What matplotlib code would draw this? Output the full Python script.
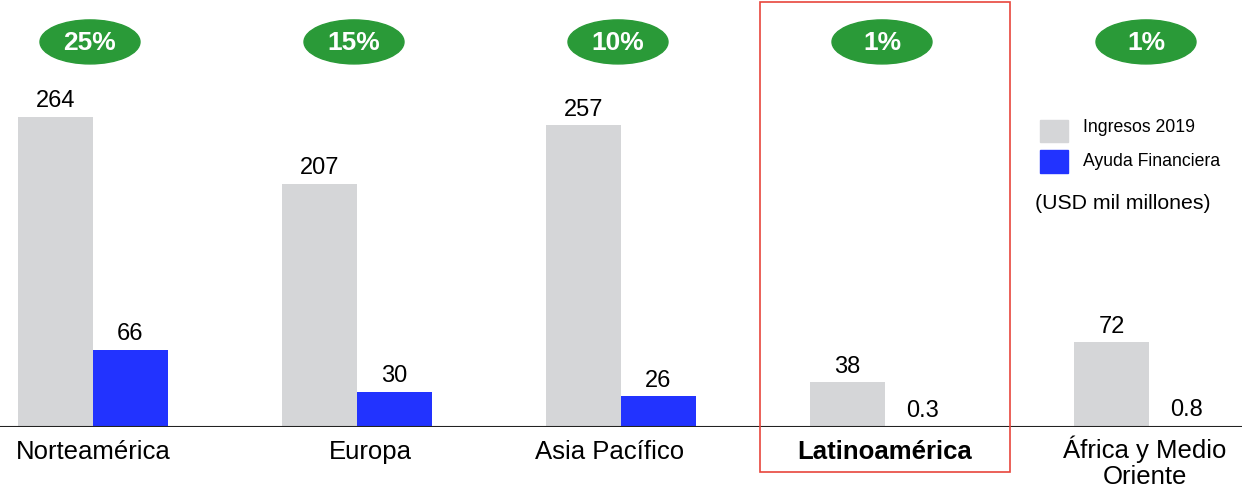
import matplotlib.pyplot as plt
from matplotlib.patches import Ellipse, Rectangle
import numpy as np

regiones = ['Norteamérica', 'Europa', 'Asia Pacífico', 'Latinoamérica', 'África y Medio\nOriente']
ingresos = [264, 207, 257, 38, 72]
ayuda = [66, 30, 26, 0.3, 0.8]
etiquetas_ayuda = ['66', '30', '26', '0.3', '0.8']
porcentajes = ['25%', '15%', '10%', '1%', '1%']

gris = '#d5d6d8'
azul = '#2233ff'
verde = '#2a9a38'

plt.rcParams['font.family'] = ['Liberation Sans', 'DejaVu Sans']

fig = plt.figure(figsize=(12.42, 4.9), dpi=100)
ax = fig.add_axes([0, 63 / 490, 1, 427 / 490])

x = np.arange(len(regiones))
w = 75 / 264
ax.bar(x - w / 2, ingresos, width=w, color=gris)
ax.bar(x + w / 2, ayuda, width=w, color=azul)

ax.set_xlim(-93 / 264, (1242 - 93) / 264)
ax.set_ylim(0, 427 / 1.174)
ax.axis('off')
ax.axhline(0, color='#222222', lw=1.5, zorder=3)

# valores encima de las barras
for i in range(len(regiones)):
    ax.text(x[i] - w / 2, ingresos[i] + 4, str(ingresos[i]), ha='center', va='bottom', fontsize=17)
    ax.text(x[i] + w / 2, ayuda[i] + 4, etiquetas_ayuda[i], ha='center', va='bottom', fontsize=17)

# porcentajes en ovalos verdes
for i in range(len(regiones)):
    cx = x[i] - 3 / 264
    ax.add_patch(Ellipse((cx, 328), 100 / 264, 44 / 1.174, color=verde, clip_on=False))
    ax.text(cx, 327, porcentajes[i], ha='center', va='center', fontsize=19,
            color='white', fontweight='bold')

# nombres de regiones
for i in range(len(regiones)):
    off = [0, 13, -11, 0, -4][i] / 264
    y = -7 if i == 4 else -11
    ax.text(x[i] + off, y, regiones[i], ha='center', va='top', fontsize=18.5,
            fontweight='bold' if i == 3 else 'normal', linespacing=1.12)

# recuadro rojo
fig.patches.append(Rectangle((760 / 1242, 18 / 490), 250 / 1242, 470 / 490,
                             transform=fig.transFigure, fill=False, ec='#e8453c', lw=1.2))

# leyenda
fig.patches.append(Rectangle((1040 / 1242, 1 - 142 / 490), 28 / 1242, 22 / 490,
                             transform=fig.transFigure, color=gris))
fig.patches.append(Rectangle((1040 / 1242, 1 - 173 / 490), 28 / 1242, 23 / 490,
                             transform=fig.transFigure, color=azul))
fig.text(1083 / 1242, 1 - 128 / 490, 'Ingresos 2019', fontsize=12.7, va='center')
fig.text(1083 / 1242, 1 - 161 / 490, 'Ayuda Financiera', fontsize=12.7, va='center')
fig.text(1035 / 1242, 1 - 203 / 490, '(USD mil millones)', fontsize=15.3, va='center')

fig.savefig('out.png', dpi=100)
